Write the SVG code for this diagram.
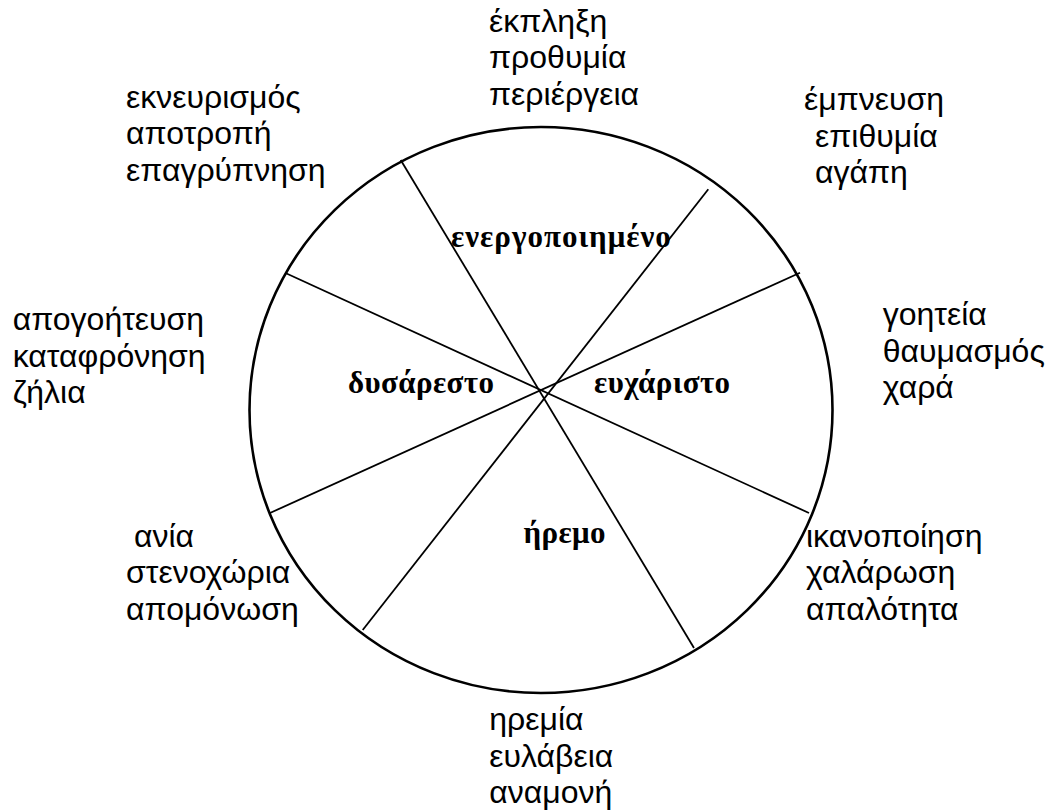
<svg xmlns="http://www.w3.org/2000/svg" width="1052" height="811" viewBox="0 0 1052 811">
<style>
.outer{font-family:"Liberation Sans",Arial,sans-serif;font-size:32px;fill:#000}
.sector{font-family:"Liberation Serif","Times New Roman",serif;font-size:31px;font-weight:bold;fill:#000;letter-spacing:0.4px}
.spoke{stroke:#000;stroke-width:1.8;fill:none}
.rim{stroke:#000;stroke-width:2.6;fill:none}
</style>
<rect width="1052" height="811" fill="#fff"/>
<g id="wheel">
<ellipse class="rim" cx="541" cy="410" rx="291.5" ry="283"/>
</g>
<g id="connectors">
<line class="spoke" x1="400.7" y1="160" x2="694" y2="648"/>
<line class="spoke" x1="286" y1="273.3" x2="809" y2="513"/>
<line class="spoke" x1="270" y1="513" x2="800" y2="272.7"/>
<line class="spoke" x1="362.7" y1="630" x2="708.3" y2="189.3"/>
</g>
<g id="sector-active"><text class="sector" x="451" y="247" style="letter-spacing:1px">ενεργοποιημένο</text></g>
<g id="sector-unpleasant"><text class="sector" x="348" y="393">δυσάρεστο</text></g>
<g id="sector-pleasant"><text class="sector" x="594" y="393">ευχάριστο</text></g>
<g id="sector-calm"><text class="sector" x="606" y="543" text-anchor="end">ήρεμο</text></g>
<g id="label-top"><text class="outer" x="489" y="31.7"><tspan x="489">έκπληξη</tspan><tspan x="489" y="68.3">προθυμία</tspan><tspan x="489" y="105">περιέργεια</tspan></text></g>
<g id="label-topleft"><text class="outer" x="126" y="107.5"><tspan x="126">εκνευρισμός</tspan><tspan x="126" y="144">αποτροπή</tspan><tspan x="126" y="180.7">επαγρύπνηση</tspan></text></g>
<g id="label-topright"><text class="outer" x="804" y="110"><tspan x="804">έμπνευση</tspan><tspan x="815" y="146.7">επιθυμία</tspan><tspan x="815" y="183.3">αγάπη</tspan></text></g>
<g id="label-left"><text class="outer" x="12.7" y="330"><tspan x="12.7">απογοήτευση</tspan><tspan x="12.7" y="366.7">καταφρόνηση</tspan><tspan x="12.7" y="403.3">ζήλια</tspan></text></g>
<g id="label-right"><text class="outer" x="882.7" y="325"><tspan x="882.7">γοητεία</tspan><tspan x="882.7" y="361.7">θαυμασμός</tspan><tspan x="882.7" y="398.3">χαρά</tspan></text></g>
<g id="label-bottomleft"><text class="outer" x="134" y="546.7"><tspan x="134">ανία</tspan><tspan x="126" y="583.3">στενοχώρια</tspan><tspan x="126" y="620">απομόνωση</tspan></text></g>
<g id="label-bottomright"><text class="outer" x="806" y="546.7"><tspan x="806">ικανοποίηση</tspan><tspan x="806" y="583.3">χαλάρωση</tspan><tspan x="806" y="620">απαλότητα</tspan></text></g>
<g id="label-bottom"><text class="outer" x="489.3" y="730"><tspan x="489.3">ηρεμία</tspan><tspan x="489.3" y="766.7">ευλάβεια</tspan><tspan x="489.3" y="803.3">αναμονή</tspan></text></g>
</svg>
